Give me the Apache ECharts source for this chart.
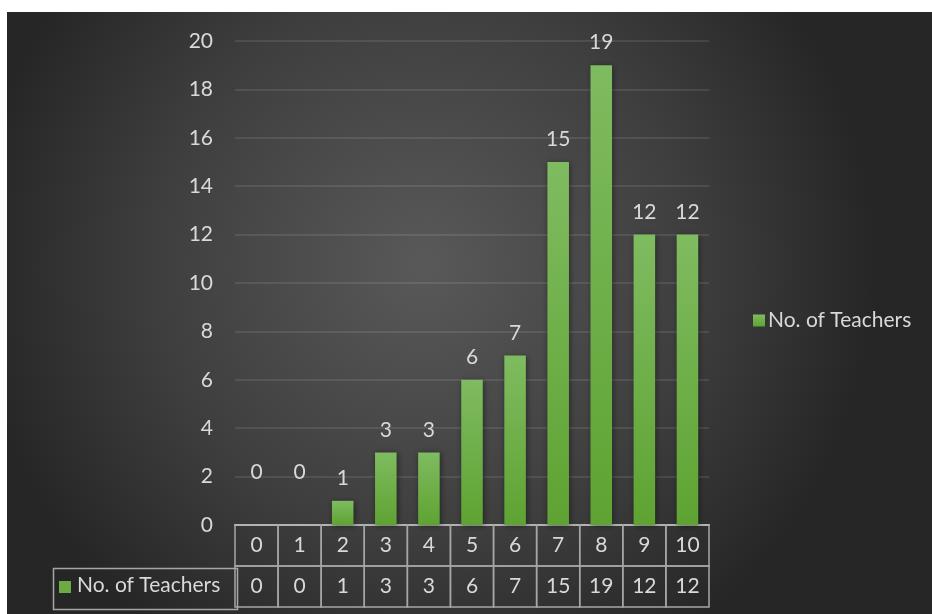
<!DOCTYPE html>
<html>
<head>
<meta charset="utf-8">
<script src="https://cdn.jsdelivr.net/npm/echarts@6/dist/echarts.min.js"></script>
<style>
html,body{margin:0;padding:0;background:#ffffff;}
#chart{position:absolute;left:7px;top:12px;width:925px;height:602px;}
</style>
</head>
<body>
<div id="chart"></div>
<script>
const categories = ['0','1','2','3','4','5','6','7','8','9','10'];
const teachers = [0,0,1,3,3,6,7,15,19,12,12];
const seriesName = 'No. of Teachers';
const yTicks = {min:0, max:20, interval:2};

const FONT = 'Lato, "Open Sans", sans-serif';
const TXT = '#d9d9d9';
const LINE = '#a6a6a6';
const FS = 21;

const chart = echarts.init(document.getElementById('chart'));

const barData = teachers.map(v => v === 0 ? {value:v, label:{distance:42}} : v);

chart.setOption({
  backgroundColor: {
    type:'radial', x:0.45, y:0.42, r:0.75,
    colorStops:[{offset:0,color:'#595959'},{offset:0.6,color:'#3e3e3e'},{offset:1,color:'#262626'}]
  },
  textStyle:{fontFamily:FONT},
  legend:{
    data:[seriesName],
    left:741, top:293,
    icon:'rect', itemWidth:12, itemHeight:12, itemGap:6,
    textStyle:{color:TXT, fontSize:FS, fontFamily:FONT, padding:[0,0,0,-2]}
  },
  grid:[
    {left:228, right:223, top:29, bottom:89, containLabel:false},
    {left:228, right:223, top:513, height:82, containLabel:false}
  ],
  xAxis:[
    {type:'category', gridIndex:0, data:categories,
     axisLine:{show:true, lineStyle:{color:'#d9d9d9', width:2}},
     axisTick:{show:false}, axisLabel:{show:false}, splitLine:{show:false}},
    {type:'category', gridIndex:1, data:categories,
     axisLine:{show:false}, axisTick:{show:false}, axisLabel:{show:false}, splitLine:{show:false}}
  ],
  yAxis:[
    {type:'value', gridIndex:0, min:yTicks.min, max:yTicks.max, interval:yTicks.interval,
     axisLine:{show:false}, axisTick:{show:false},
     axisLabel:{color:TXT, fontSize:FS, fontFamily:FONT, margin:22},
     splitLine:{lineStyle:{color:'rgba(255,255,255,0.13)', width:1.5}}},
    {type:'value', gridIndex:1, min:0, max:2, inverse:true, show:false}
  ],
  series:[
    {
      name:seriesName, type:'bar', xAxisIndex:0, yAxisIndex:0,
      data:barData, barWidth:'50%',
      itemStyle:{
        color:{type:'linear', x:0, y:0, x2:0, y2:1,
          colorStops:[{offset:0,color:'#7fbb60'},{offset:1,color:'#5ea332'}]},
        shadowColor:'rgba(0,0,0,0.45)', shadowBlur:6, shadowOffsetX:1, shadowOffsetY:1
      },
      label:{show:true, position:'top', distance:12, color:TXT, fontSize:FS, fontFamily:FONT}
    },
    {
      name:'table', type:'custom', xAxisIndex:1, yAxisIndex:1,
      data: categories.map((c,i) => [i, teachers[i]]),
      silent:true, legendHoverLink:false,
      renderItem:function(params, api){
        const i = api.value(0);
        const top = api.coord([i, 0]);
        const mid = api.coord([i, 1]);
        const bot = api.coord([i, 2]);
        const w = api.size([1, 0])[0];
        const x0 = top[0] - w/2;
        return {type:'group', children:[
          {type:'rect', shape:{x:x0, y:top[1], width:w, height:mid[1]-top[1]},
           style:{fill:'none', stroke:LINE, lineWidth:1.5}},
          {type:'rect', shape:{x:x0, y:mid[1], width:w, height:bot[1]-mid[1]},
           style:{fill:'none', stroke:LINE, lineWidth:1.5}},
          {type:'text', style:{text:categories[i], x:top[0], y:(top[1]+mid[1])/2,
            textAlign:'center', textVerticalAlign:'middle', fill:TXT, font:FS+'px '+FONT}},
          {type:'text', style:{text:String(api.value(1)), x:top[0], y:(mid[1]+bot[1])/2,
            textAlign:'center', textVerticalAlign:'middle', fill:TXT, font:FS+'px '+FONT}}
        ]};
      }
    }
  ],
  graphic:[
    {type:'rect', left:44, top:554, shape:{width:184, height:41},
     style:{fill:'none', stroke:LINE, lineWidth:1.5}},
    {type:'rect', left:52, top:569, shape:{width:12, height:12}, style:{fill:'#6aab45'}},
    {type:'text', left:70, top:563, style:{text:seriesName, fill:TXT, font:FS+'px '+FONT}}
  ]
});
</script>
</body>
</html>
